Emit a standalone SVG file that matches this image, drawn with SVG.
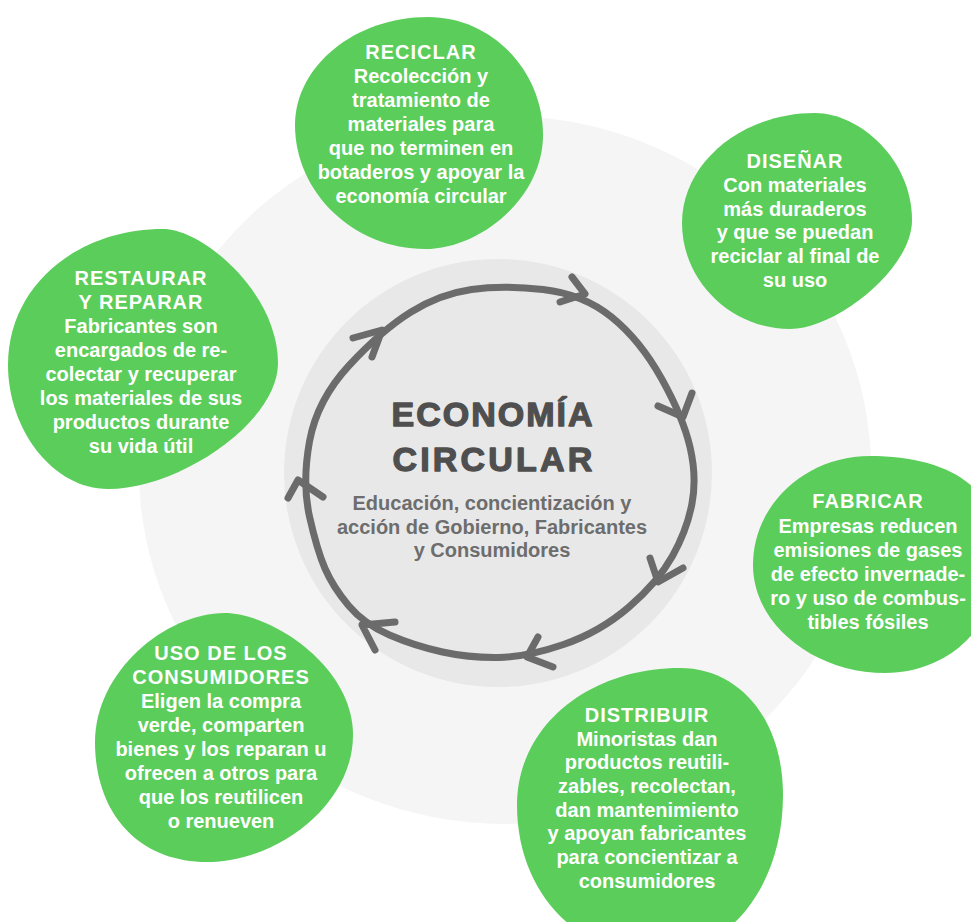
<svg xmlns="http://www.w3.org/2000/svg" width="971" height="922" viewBox="0 0 971 922">
<style>
.blob{fill:#5bcd5b}
.t{font-family:"Liberation Sans",Arial,sans-serif;font-weight:bold;font-size:20px;fill:#ffffff;text-anchor:middle}
.h{letter-spacing:1px}
.ring{fill:none;stroke:#6b6b6b;stroke-width:7;stroke-linecap:round;stroke-linejoin:round}
.big{font-family:"Liberation Sans",Arial,sans-serif;font-weight:bold;font-size:34px;fill:#4f4f4f;stroke:#4f4f4f;stroke-width:1.3;stroke-linejoin:round;text-anchor:middle}
.sub{font-family:"Liberation Sans",Arial,sans-serif;font-weight:bold;font-size:20px;fill:#6d6d6d;text-anchor:middle}
</style>
<rect width="971" height="922" fill="#ffffff"/>
<ellipse id="background" cx="505" cy="470" rx="366" ry="354" fill="#f5f5f5"/>
<g id="center">
<circle cx="498" cy="473" r="214" fill="#e8e8e8"/>
</g>
<g id="connectors">
<path class="ring" d="M471.5,289.5 Q503,285 543,289.5 Q583,294 611.5,317 Q640,340 661.5,378.5 Q683,417 690,447 Q697,477 692,503.5 Q687,530 672.5,556 Q658,582 629,607 Q600,632 563.5,644.5 Q527,657 498.5,657.5 Q470,658 442.5,652 Q415,646 389.5,635 Q364,624 348.5,605.5 Q333,587 325,568.5 Q317,550 309.5,516.5 Q302,483 309.5,441.5 Q317,400 349.5,365 Q382,330 411,312 Q440,294 471.5,289.5 Z"/>
<path class="ring" d="M572,277 L585,294 L560,302"/>
<path class="ring" d="M692,393 L683,417 L658,406"/>
<path class="ring" d="M650,558 L658,582 L683,568"/>
<path class="ring" d="M538,637 L527,657 L553,667"/>
<path class="ring" d="M395,622 L362,625 L375,650"/>
<path class="ring" d="M288,498 L298,480 L323,497"/>
<path class="ring" d="M353,338 L382,330 L372,357"/>
</g>
<g id="center-text">
<text class="big" x="493" y="426" style="letter-spacing:2px">ECONOMÍA</text>
<text class="big" x="494" y="471" style="letter-spacing:3.2px">CIRCULAR</text>
<text class="sub" x="492" y="510">Educación, concientización y</text>
<text class="sub" x="492" y="534">acción de Gobierno, Fabricantes</text>
<text class="sub" x="492" y="557">y Consumidores</text>
</g>
<g id="reciclar">
<path class="blob" d="M428,17 C491,17 543,70 543,135 C543,198 480,249 425,249 C354,249 295,193 295,125 C295,66 355,17 428,17 Z"/>
<text class="t h" x="421" y="59">RECICLAR</text>
<text class="t" x="421" y="83">Recolección y</text>
<text class="t" x="421" y="107">tratamiento de</text>
<text class="t" x="421" y="131">materiales para</text>
<text class="t" x="421" y="155">que no terminen en</text>
<text class="t" x="421" y="179">botaderos y apoyar la</text>
<text class="t" x="421" y="203">economía circular</text>
</g>
<g id="disenar">
<path class="blob" d="M815,113 C860,113 912,160 912,220 C912,270 835,329 790,329 C731,329 682,281 682,223 C682,163 742,113 815,113 Z"/>
<text class="t h" x="795" y="168">DISEÑAR</text>
<text class="t" x="795" y="192">Con materiales</text>
<text class="t" x="795" y="216">más duraderos</text>
<text class="t" x="795" y="239">y que se puedan</text>
<text class="t" x="795" y="263">reciclar al final de</text>
<text class="t" x="795" y="287">su uso</text>
</g>
<g id="restaurar">
<path class="blob" d="M163,229 C203,229 278,293 278,363 C278,423 178,489 108,489 C53,489 8,430 8,365 C8,285 78,229 163,229 Z"/>
<text class="t h" x="141" y="285">RESTAURAR</text>
<text class="t h" x="141" y="309">Y REPARAR</text>
<text class="t" x="141" y="333">Fabricantes son</text>
<text class="t" x="141" y="357">encargados de re-</text>
<text class="t" x="141" y="381">colectar y recuperar</text>
<text class="t" x="141" y="405">los materiales de sus</text>
<text class="t" x="141" y="429">productos durante</text>
<text class="t" x="141" y="453">su vida útil</text>
</g>
<g id="fabricar">
<path class="blob" d="M870,456 C945,456 1000,485 1000,555 C1000,625 950,673 885,673 C815,673 753,625 753,565 C753,505 805,456 870,456 Z"/>
<text class="t h" x="868" y="508">FABRICAR</text>
<text class="t" x="868" y="533">Empresas reducen</text>
<text class="t" x="868" y="557">emisiones de gases</text>
<text class="t" x="868" y="581">de efecto invernade-</text>
<text class="t" x="868" y="605">ro y uso de combus-</text>
<text class="t" x="868" y="629">tibles fósiles</text>
</g>
<g id="uso">
<path class="blob" d="M225,613 C270,613 353,665 353,735 C353,805 277,862 207,862 C137,862 95,812 95,742 C95,672 165,613 225,613 Z"/>
<text class="t h" x="221" y="660">USO DE LOS</text>
<text class="t h" x="221" y="684">CONSUMIDORES</text>
<text class="t" x="221" y="708">Eligen la compra</text>
<text class="t" x="221" y="732">verde, comparten</text>
<text class="t" x="221" y="756">bienes y los reparan u</text>
<text class="t" x="221" y="780">ofrecen a otros para</text>
<text class="t" x="221" y="804">que los reutilicen</text>
<text class="t" x="221" y="828">o renueven</text>
</g>
<g id="distribuir">
<path class="blob" d="M680,668 C740,668 783,720 783,795 C783,885 730,955 655,955 C580,955 517,895 517,805 C517,725 590,668 680,668 Z"/>
<text class="t h" x="647" y="722">DISTRIBUIR</text>
<text class="t" x="647" y="746">Minoristas dan</text>
<text class="t" x="647" y="769">productos reutili-</text>
<text class="t" x="647" y="793">zables, recolectan,</text>
<text class="t" x="647" y="817">dan mantenimiento</text>
<text class="t" x="647" y="840">y apoyan fabricantes</text>
<text class="t" x="647" y="864">para concientizar a</text>
<text class="t" x="647" y="888">consumidores</text>
</g>
</svg>
